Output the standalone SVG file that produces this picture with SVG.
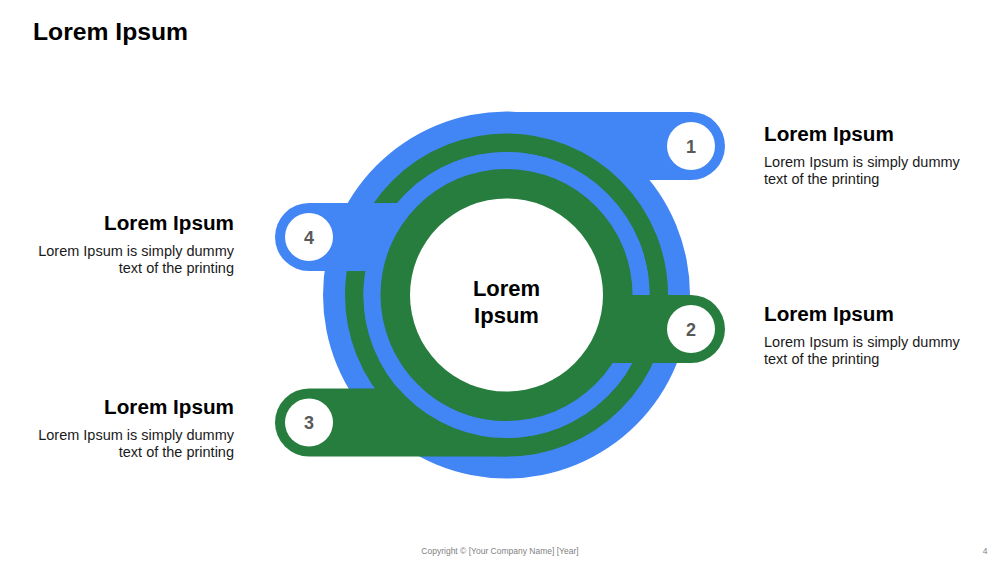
<svg xmlns="http://www.w3.org/2000/svg" width="1000" height="563" viewBox="0 0 1000 563">
  <style>
    .blue { fill: #4285F4; }
    .green { fill: #267D3E; }
    .white { fill: #FFFFFF; }
    .title { font-family: "Liberation Sans", Arial, sans-serif; font-weight: bold; font-size: 24.7px; fill: #000; }
    .head { font-family: "Liberation Sans", Arial, sans-serif; font-weight: bold; font-size: 20.7px; fill: #000; }
    .body { font-family: "Liberation Sans", Arial, sans-serif; font-size: 14.5px; fill: #1a1a1a; }
    .num { font-family: "Liberation Sans", Arial, sans-serif; font-weight: bold; font-size: 18px; fill: #595959; text-anchor: middle; }
    .center { font-family: "Liberation Sans", Arial, sans-serif; font-weight: bold; font-size: 22px; fill: #000; text-anchor: middle; }
    .foot { font-family: "Liberation Sans", Arial, sans-serif; font-size: 8.5px; fill: #7f7f7f; }
  </style>
  <rect width="1000" height="563" fill="#FFFFFF"/>
  <text class="title" x="33" y="39.5">Lorem Ipsum</text>

  <g id="connectors">
    <!-- Layer 1: blue outer disc with tab 1 -->
    <circle class="blue" cx="506.5" cy="295" r="183.5"/>
    <path class="blue" d="M506.5,112 H691 A34,34 0 0 1 691,180 H506.5 Z"/>
    <!-- Layer 2: green outer ring with tab 3 -->
    <circle cx="506.5" cy="295" r="152.25" fill="none" stroke="#267D3E" stroke-width="18.5"/>
    <path class="green" d="M506.5,388.5 H309 A34,34 0 0 0 309,456.5 H506.5 Z"/>
    <!-- Layer 3: blue gap ring with tab 4 -->
    <path class="blue" d="M506.5,203 H309 A34,34 0 0 0 309,271 H506.5 Z"/>
    <circle cx="506.5" cy="295" r="134.5" fill="none" stroke="#4285F4" stroke-width="17"/>
    <!-- Layer 4: green inner disc with tab 2 -->
    <circle class="green" cx="506.5" cy="295" r="126"/>
    <path class="green" d="M506.5,295 H691 A34,34 0 0 1 691,363 H506.5 Z"/>
  </g>

  <g id="center">
    <circle class="white" cx="506.5" cy="295" r="96.5"/>
    <text class="center" x="506.5" y="296">Lorem</text>
    <text class="center" x="506.5" y="323">Ipsum</text>
  </g>

  <g id="node1">
    <circle class="white" cx="691" cy="146" r="24"/>
    <text class="num" x="691" y="152.5">1</text>
    <text class="head" x="764" y="141">Lorem Ipsum</text>
    <text class="body" x="764" y="166.5">Lorem Ipsum is simply dummy</text>
    <text class="body" x="764" y="184">text of the printing</text>
  </g>

  <g id="node2">
    <circle class="white" cx="691" cy="329" r="24"/>
    <text class="num" x="691" y="335.5">2</text>
    <text class="head" x="764" y="321">Lorem Ipsum</text>
    <text class="body" x="764" y="346.5">Lorem Ipsum is simply dummy</text>
    <text class="body" x="764" y="364">text of the printing</text>
  </g>

  <g id="node3">
    <circle class="white" cx="309" cy="422.5" r="24"/>
    <text class="num" x="309" y="429">3</text>
    <text class="head" x="234" y="414" text-anchor="end">Lorem Ipsum</text>
    <text class="body" x="234" y="439.5" text-anchor="end">Lorem Ipsum is simply dummy</text>
    <text class="body" x="234" y="457" text-anchor="end">text of the printing</text>
  </g>

  <g id="node4">
    <circle class="white" cx="309" cy="237" r="24"/>
    <text class="num" x="309" y="243.5">4</text>
    <text class="head" x="234" y="230" text-anchor="end">Lorem Ipsum</text>
    <text class="body" x="234" y="255.5" text-anchor="end">Lorem Ipsum is simply dummy</text>
    <text class="body" x="234" y="273" text-anchor="end">text of the printing</text>
  </g>

  <text class="foot" x="500" y="554" text-anchor="middle">Copyright © [Your Company Name] [Year]</text>
  <text class="foot" x="985" y="554" text-anchor="middle">4</text>
</svg>
